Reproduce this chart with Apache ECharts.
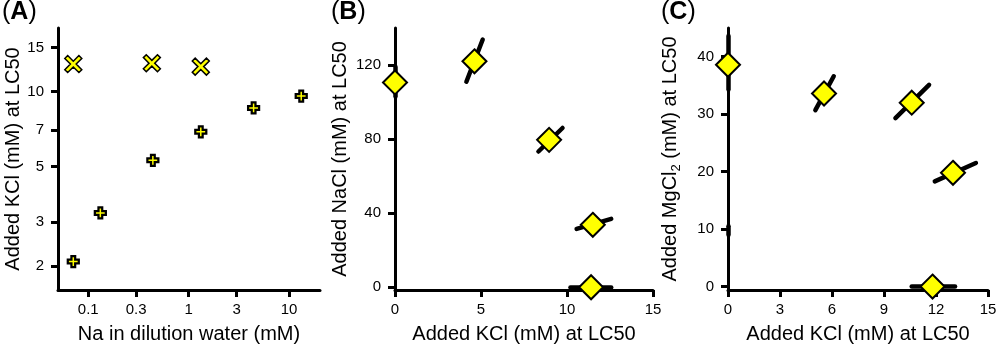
<!DOCTYPE html>
<html><head><meta charset="utf-8">
<script src="https://cdn.jsdelivr.net/npm/echarts@6/dist/echarts.min.js"></script>
<style>html,body{margin:0;padding:0;background:#fff}#c{width:1000px;height:350px}</style>
</head><body><div id="c"></div>
<script>
// ---------- Panel A (log-log) ----------
const aCrossNa = [0.071, 0.43, 1.32];          // "x" markers: Na in dilution water (mM)
const aCrossKcl = [12.9, 13.0, 12.6];          // Added KCl (mM) at LC50
const aPlusNa = [0.071, 0.132, 0.44, 1.32, 4.43, 13.2];
const aPlusKcl = [2.08, 3.26, 5.3, 6.9, 8.6, 9.6];
const aXTicks = [0.1, 0.3, 1, 3, 10];
const aYTicks = [2, 3, 5, 7, 10, 15];

// ---------- Panel B ----------
const bKcl = [0, 4.62, 8.96, 11.5, 11.4];
const bNacl = [110.6, 122, 79.6, 33.7, 0];
const bErrLoX = [0, 4.15, 8.34, 10.56, 10.2];
const bErrLoY = [103, 111, 73.3, 31.5, 0];
const bErrHiX = [0, 5.1, 9.74, 12.57, 12.57];
const bErrHiY = [119, 133.8, 86, 36.9, 0];
const bXTicks = [0, 5, 10, 15];
const bYTicks = [0, 40, 80, 120];

// ---------- Panel C ----------
const cKcl = [0, 5.54, 10.6, 12.98, 11.8];
const cMgcl2 = [38.6, 33.6, 32, 19.8, 0];
const cErrLoX = [0, 5.04, 9.66, 11.93, 10.6, 0];
const cErrLoY = [34.3, 30.7, 29.3, 18.3, 0, 9.0];
const cErrHiX = [0, 6.1, 11.6, 14.3, 13.1, 0];
const cErrHiY = [43.6, 36.6, 35.1, 21.5, 0, 10.5];
const cXTicks = [0, 3, 6, 9, 12, 15];
const cYTicks = [0, 10, 20, 30, 40];

const FONT = 'Liberation Sans, Arial, sans-serif';
const lg = Math.log10;
const unlog = v => String(+Math.pow(10, v).toPrecision(2));

function axis(gridIndex, ticks, extra, isY) {
  const o = {
    type: 'value', gridIndex: gridIndex,
    axisLine: { show: true, onZero: false, lineStyle: { color: '#000', width: 3 } },
    axisTick: { show: true, length: 7, lineStyle: { color: '#000', width: 3 }, customValues: ticks },
    axisLabel: { color: '#000', fontSize: 15, margin: isY ? 14 : 12, customValues: ticks },
    splitLine: { show: false },
    nameLocation: 'middle',
    nameTextStyle: { color: '#000', fontSize: 20 }
  };
  for (const k in extra) {
    if (typeof extra[k] === 'object' && o[k] && !Array.isArray(extra[k])) Object.assign(o[k], extra[k]);
    else o[k] = extra[k];
  }
  return o;
}

function errLines(idx, lx, ly, hx, hy) {
  return {
    type: 'lines', coordinateSystem: 'cartesian2d', xAxisIndex: idx, yAxisIndex: idx,
    silent: true, z: 2,
    data: lx.map((x, i) => ({ coords: [[x, ly[i]], [hx[i], hy[i]]] })),
    lineStyle: { color: '#000', width: 4.5, opacity: 1, cap: 'round', curveness: 0 }
  };
}

const xPath = 'path://M0,17L17,0L50,33L83,0L100,17L67,50L100,83L83,100L50,67L17,100L0,83L33,50Z';
const plusPath = 'path://M33,0L67,0L67,33L100,33L100,67L67,67L67,100L33,100L33,67L0,67L0,33L33,33Z';
const markerStyle = { color: '#ffff00', borderColor: '#000', borderWidth: 1.5, opacity: 1 };

const option = {
  backgroundColor: '#fff',
  animation: false,
  textStyle: { fontFamily: FONT },
  grid: [
    { left: 58, top: 28, width: 262, height: 262 },
    { left: 395, top: 28, width: 258, height: 262 },
    { left: 728, top: 28, width: 260, height: 262 }
  ],
  xAxis: [
    axis(0, aXTicks.map(lg), { min: lg(0.05), max: lg(20.3), name: 'Na in dilution water (mM)', nameGap: 34,
      axisLabel: { formatter: unlog } }, false),
    axis(1, bXTicks, { min: 0, max: 15, name: 'Added KCl (mM) at LC50', nameGap: 34 }, false),
    axis(2, cXTicks, { min: 0, max: 15, name: 'Added KCl (mM) at LC50', nameGap: 34 }, false)
  ],
  yAxis: [
    axis(0, aYTicks.map(lg), { min: lg(1.6), max: lg(18), name: 'Added KCl (mM) at LC50', nameGap: 33,
      axisLabel: { formatter: unlog } }, true),
    axis(1, bYTicks, { min: -1.5, max: 140, name: 'Added NaCl (mM) at LC50', nameGap: 45 }, true),
    axis(2, cYTicks, { min: -0.6, max: 45, name: '{n|Added MgCl}{s|2}{n| (mM) at LC50}', nameGap: 45,
      nameTextStyle: { rich: {
        n: { fontSize: 20, color: '#000', lineHeight: 26 },
        s: { fontSize: 13, color: '#000', verticalAlign: 'bottom', lineHeight: 14 }
      } } }, true)
  ],
  graphic: [['A', 2], ['B', 331], ['C', 661]].map(([t, x]) => ({
    type: 'text', left: x, top: 0,
    style: {
      text: '{p|(}{b|' + t + '}{p|)}',
      rich: {
        p: { fontSize: 25, fontFamily: FONT, fill: '#000' },
        b: { fontSize: 25, fontFamily: FONT, fontWeight: 'bold', fill: '#000' }
      }
    }
  })),
  series: [
    { type: 'scatter', xAxisIndex: 0, yAxisIndex: 0, symbol: xPath, symbolSize: 17, z: 3,
      data: aCrossNa.map((x, i) => [lg(x), lg(aCrossKcl[i])]), itemStyle: markerStyle },
    { type: 'scatter', xAxisIndex: 0, yAxisIndex: 0, symbol: plusPath, symbolSize: 11, z: 3,
      data: aPlusNa.map((x, i) => [lg(x), lg(aPlusKcl[i])]),
      itemStyle: Object.assign({}, markerStyle, { borderWidth: 2.25 }) },
    errLines(1, bErrLoX, bErrLoY, bErrHiX, bErrHiY),
    { type: 'scatter', xAxisIndex: 1, yAxisIndex: 1, symbol: 'diamond', symbolSize: 24, z: 3,
      data: bKcl.map((x, i) => [x, bNacl[i]]), itemStyle: Object.assign({}, markerStyle, { borderWidth: 2 }) },
    errLines(2, cErrLoX, cErrLoY, cErrHiX, cErrHiY),
    { type: 'scatter', xAxisIndex: 2, yAxisIndex: 2, symbol: 'diamond', symbolSize: 24, z: 3,
      data: cKcl.map((x, i) => [x, cMgcl2[i]]), itemStyle: Object.assign({}, markerStyle, { borderWidth: 2 }) }
  ]
};

const chart = echarts.init(document.getElementById('c'));
chart.setOption(option);
</script>
</body></html>
